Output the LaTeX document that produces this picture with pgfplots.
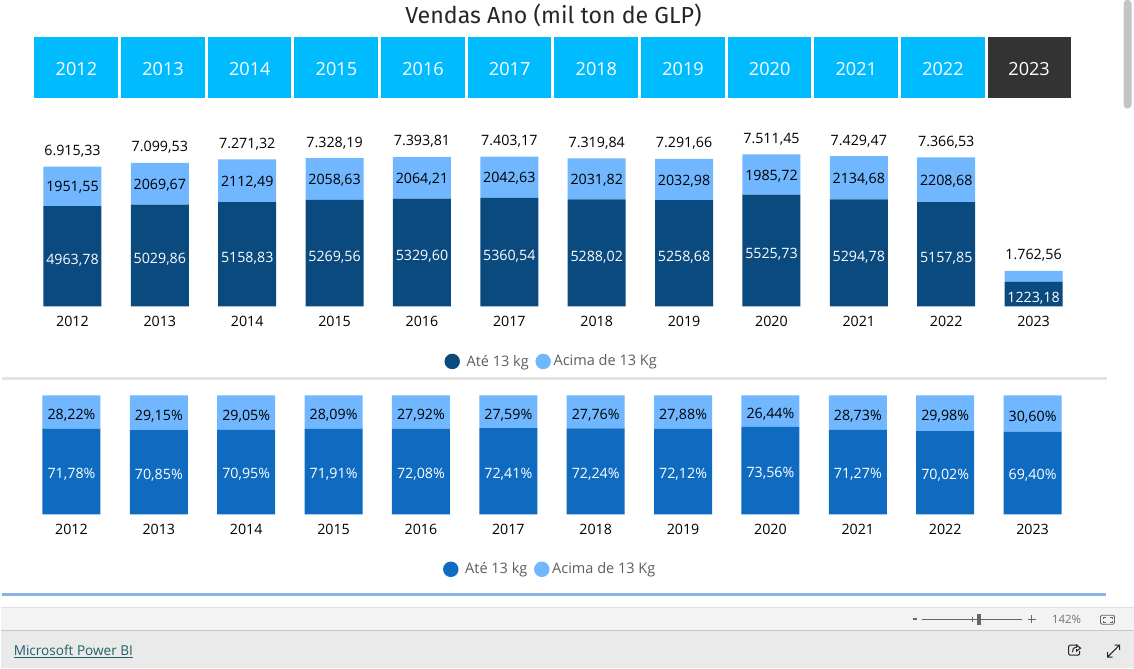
\documentclass[border=0pt]{standalone}
\usepackage{fontspec}
\usepackage{pgfplots}
\usepackage{pgfplotstable}
\pgfplotsset{compat=1.18}
\setmainfont{Open Sans}
\newfontfamily\titlefont{Fira Sans}

\definecolor{slicer}{HTML}{00BCFF}
\definecolor{slicerdark}{HTML}{333333}
\definecolor{navy}{HTML}{0A4A7F}
\definecolor{midblue}{HTML}{0F6BC0}
\definecolor{lightblue}{HTML}{70B7FF}
\definecolor{legendgray}{HTML}{605E5C}
\definecolor{seprule}{HTML}{8AB4E3}
\definecolor{statusbar}{HTML}{F3F3F3}
\definecolor{footbar}{HTML}{EAEAEA}
\definecolor{rulea}{HTML}{E0E0E0}
\definecolor{ruleb}{HTML}{C8C8C8}
\definecolor{linkteal}{HTML}{1F5F6B}

% values in mil ton
\pgfplotstableread{
x low high sum lowlab highlab total
0 4963.78 1951.55 6915.33 4963,78 1951,55 6.915,33
1 5029.86 2069.67 7099.53 5029,86 2069,67 7.099,53
2 5158.83 2112.49 7271.32 5158,83 2112,49 7.271,32
3 5269.56 2058.63 7328.19 5269,56 2058,63 7.328,19
4 5329.60 2064.21 7393.81 5329,60 2064,21 7.393,81
5 5360.54 2042.63 7403.17 5360,54 2042,63 7.403,17
6 5288.02 2031.82 7319.84 5288,02 2031,82 7.319,84
7 5258.68 2032.98 7291.66 5258,68 2032,98 7.291,66
8 5525.73 1985.72 7511.45 5525,73 1985,72 7.511,45
9 5294.78 2134.68 7429.47 5294,78 2134,68 7.429,47
10 5157.85 2208.68 7366.53 5157,85 2208,68 7.366,53
11 1223.18 539.38 1762.56 1223,18 {} 1.762,56
}\vendas

% shares in percent
\pgfplotstableread{
x low high lowlab highlab
0 71.78 28.22 71,78\% 28,22\%
1 70.85 29.15 70,85\% 29,15\%
2 70.95 29.05 70,95\% 29,05\%
3 71.91 28.09 71,91\% 28,09\%
4 72.08 27.92 72,08\% 27,92\%
5 72.41 27.59 72,41\% 27,59\%
6 72.24 27.76 72,24\% 27,76\%
7 72.12 27.88 72,12\% 27,88\%
8 73.56 26.44 73,56\% 26,44\%
9 71.27 28.73 71,27\% 28,73\%
10 70.02 29.98 70,02\% 29,98\%
11 69.40 30.60 69,40\% 30,60\%
}\shares

\pgfplotsset{
  barbase/.style={
    scale only axis,
    width=787.05pt,
    xmin=-0.5, xmax=11.5,
    ymin=0,
    clip=false,
    point meta=explicit symbolic,
    nodes near coords,
    every node near coord/.append style={font=\fontsize{10.7}{12}\selectfont, anchor=center},
  },
  barchart/.style={
    ybar stacked,
    barbase,
    bar width=43.5pt,
    axis y line=none,
    axis x line*=bottom,
    x axis line style={draw=none},
    xtick=data,
    xticklabels={2012,2013,2014,2015,2016,2017,2018,2019,2020,2021,2022,2023},
    xtick style={draw=none},
    xticklabel style={font=\fontsize{10.7}{12}\selectfont, text=black, yshift=-3.75pt},
    legend columns=2,
    legend style={draw=none, fill=none, font=\fontsize{10.9}{12}\selectfont, text=legendgray,
      anchor=center, inner sep=0pt, /tikz/every even column/.append style={column sep=3pt}},
    legend cell align=left,
  },
  dotlegend/.style={legend image code/.code={\fill[##1, draw=none] (0,0) circle (5.8pt); \path (#1,0);}},
}

\begin{document}
\begin{tikzpicture}
  % page furniture is laid out in reference pixels
  \begin{scope}[x=0.75pt,y=-0.75pt]
  \path[use as bounding box] (0,-0.7) rectangle (1134,666.3);
  \fill[white] (0,-1) rectangle (1134,667);

  \node[font=\titlefont\fontsize{17.4}{20}\selectfont, text=black!85] at (553.5,14.5) {Vendas Ano (mil ton de GLP)};

  % year slicer
  \foreach \yr [count=\i from 0] in {2012,2013,...,2022}{
    \fill[slicer] ({34+86.73*\i},36.3) rectangle ++(83.6,61);
    \node[font=\fontsize{13.6}{16}\selectfont, text=white] at ({76+86.73*\i},68) {\yr};
  }
  \fill[slicerdark] (988,36.3) rectangle (1071,97.3);
  \node[font=\fontsize{13.6}{16}\selectfont, text=white] at (1029.5,68) {2023};

  % scrollbar and separators
  \fill[black!23, rounded corners=3pt] (1124,-1) rectangle (1132,108);
  \fill[black!11] (2,377) rectangle (1107,380);
  \fill[seprule] (2,593) rectangle (1106,596);
  \end{scope}

  % volume
  \begin{axis}[barchart,
      at={(21.225pt,-229.5pt)}, anchor=south west,
      height=121.5pt, ymax=8000,
      legend style={at={(0.499,-0.34)}},
    ]
    \addplot[fill=navy, draw=none, dotlegend=8.8pt, nodes near coords style={text=white, yshift=-3pt}]
      table[x=x, y=low, meta=lowlab] {\vendas};
    \addlegendentry{Até 13 kg}
    \addplot[fill=lightblue, draw=none, dotlegend=5.8pt, nodes near coords style={text=black, yshift=-1pt}]
      table[x=x, y=high, meta=highlab] {\vendas};
    \addlegendentry{Acima de 13 Kg}
  \end{axis}

  % totals over the stacks, same scales as the axis above
  \begin{axis}[barbase, hide axis,
      at={(21.225pt,-229.5pt)}, anchor=south west,
      height=121.5pt, ymax=8000,
    ]
    \addplot[only marks, mark=none, nodes near coords style={text=black, yshift=11.5pt}]
      table[x=x, y=sum, meta=total] {\vendas};
  \end{axis}

  % share
  \begin{axis}[barchart,
      at={(20.475pt,-385.5pt)}, anchor=south west,
      height=89.25pt, ymax=100,
      legend style={at={(0.4986,-0.463)}},
    ]
    \addplot[fill=midblue, draw=none, dotlegend=8.8pt, nodes near coords style={text=white, yshift=-2pt}]
      table[x=x, y=low, meta=lowlab] {\shares};
    \addlegendentry{Até 13 kg}
    \addplot[fill=lightblue, draw=none, dotlegend=5.8pt, nodes near coords style={text=black, yshift=-2.5pt}]
      table[x=x, y=high, meta=highlab] {\shares};
    \addlegendentry{Acima de 13 Kg}
  \end{axis}

  \begin{scope}[x=0.75pt,y=-0.75pt]
  % report footer
  \fill[statusbar] (0,607) rectangle (1134,630);
  \fill[footbar] (0,630) rectangle (1134,668);
  \draw[rulea, line width=0.75pt] (0,607) -- (1134,607);
  \draw[ruleb, line width=0.75pt] (0,630) -- (1134,630);
  \node[anchor=west, inner sep=0pt, font=\fontsize{10.2}{12}\selectfont, text=linkteal] at (13,651.5) {\underline{Microsoft Power BI}};

  % zoom control
  \draw[black!60, line width=1pt] (913,619) -- (917,619);
  \draw[black!60, line width=0.75pt] (922,619) -- (1022,619);
  \draw[black!60, line width=0.75pt] (972.5,616.5) -- (972.5,621.5);
  \fill[black!60] (977,614) rectangle (981,625);
  \draw[black!60, line width=0.75pt] (1028,619) -- (1036,619) (1032,615) -- (1032,623);
  \node[font=\fontsize{8.6}{10}\selectfont, text=black!55] at (1067,619) {142\%};
  \draw[black!60, line width=0.6pt, rounded corners=1pt] (1101,615) rectangle (1115,624);
  \draw[black!60, line width=0.5pt] (1103.5,618.5) |- (1106,617) (1110,617) -| (1112.5,618.5) (1112.5,620.5) |- (1110,622) (1106,622) -| (1103.5,620.5);

  % share and expand icons
  \draw[black!85, line width=0.75pt, rounded corners=1pt] (1078,645) -- (1069,645) -- (1069,655) -- (1080,655) -- (1080,651);
  \draw[black!85, line width=0.75pt] (1073,652) .. controls (1073,648) and (1075,647) .. (1077,647) -- (1077,645) -- (1081,648) -- (1077,651) -- (1077,649);
  \draw[black!85, line width=0.75pt] (1108,657) -- (1120,645) (1115,645) -- (1120,645) -- (1120,650) (1108,652) -- (1108,657) -- (1113,657);
  \end{scope}
\end{tikzpicture}
\end{document}
